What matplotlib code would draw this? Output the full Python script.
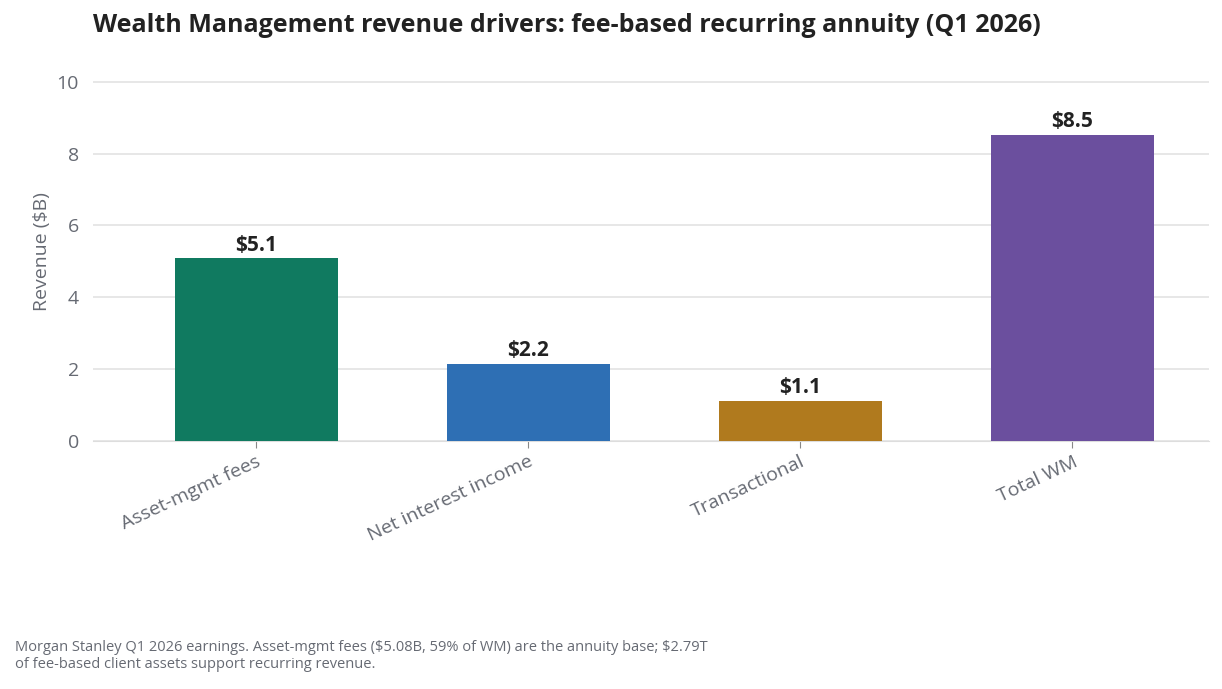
import matplotlib
matplotlib.use('Agg')
import matplotlib.pyplot as plt

plt.rcParams['font.family'] = ['Open Sans', 'DejaVu Sans']
plt.rcParams['text.parse_math'] = False

categories = ['Asset-mgmt fees', 'Net interest income', 'Transactional', 'Total WM']
values = [5.08, 2.15, 1.12, 8.52]
labels = ['$5.1', '$2.2', '$1.1', '$8.5']
colors = ['#107A60', '#2E6FB4', '#B07A1E', '#6B4F9E']

fig = plt.figure(figsize=(12.22, 6.89), dpi=100)
ax = fig.add_axes([0.076, 0.36, 0.913, 0.55])
x = range(len(categories))
ax.bar(x, values, width=0.6, color=colors, zorder=3)
for xi, v, lab in zip(x, values, labels):
    ax.text(xi, v + 0.08, lab, ha='center', va='bottom', fontsize=15,
            fontweight='bold', color='#222222')
ax.set_ylim(0, 10.55)
ax.set_xlim(-0.6, 3.5)
ax.set_yticks([0, 2, 4, 6, 8, 10])
ax.grid(axis='y', color='#E3E3E3', linewidth=1.2, zorder=0)
for s in ['top', 'right', 'left']:
    ax.spines[s].set_visible(False)
ax.spines['bottom'].set_color('#DDDDDD')
ax.set_xticks(list(x))
ax.set_xticklabels(categories, rotation=25, ha='right', rotation_mode='anchor')
ax.tick_params(axis='x', colors='#888888', labelcolor='#666a73', labelsize=14, length=5)
ax.tick_params(axis='y', length=0, labelcolor='#666a73', labelsize=14, pad=10)
ax.set_ylabel('Revenue ($B)', fontsize=14, color='#666a73')
fig.text(0.076, 0.945, 'Wealth Management revenue drivers: fee-based recurring annuity (Q1 2026)',
         fontsize=18, fontweight='bold', color='#222222', va='bottom')
fig.text(0.012, 0.025, 'Morgan Stanley Q1 2026 earnings. Asset-mgmt fees ($5.08B, 59% of WM) are the annuity base; $2.79T\n'
         'of fee-based client assets support recurring revenue.', fontsize=10.5, color='#666a73', va='bottom')
fig.savefig('out.png', dpi=100)
